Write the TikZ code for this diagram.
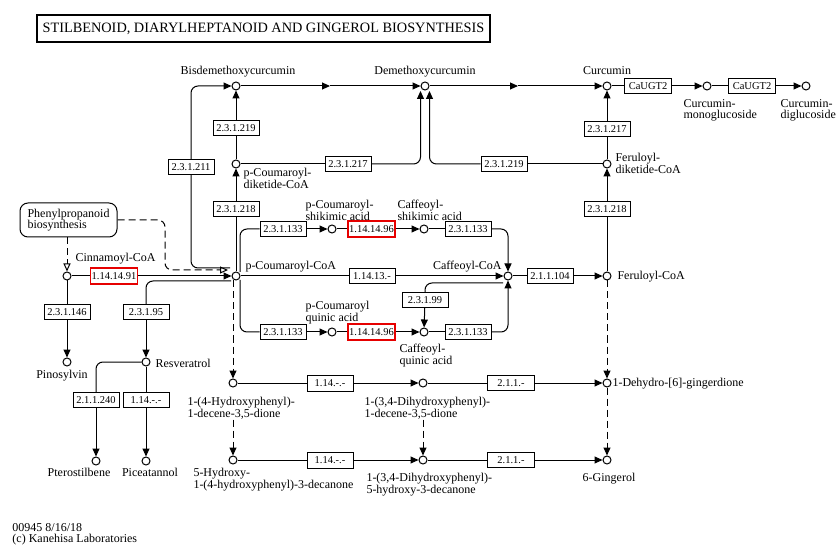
\documentclass[tikz,border=0pt]{standalone}
\usepackage{fontspec}
\setmainfont{Liberation Serif}
\usetikzlibrary{arrows.meta}
\definecolor{kred}{RGB}{230,0,0}
\begin{document}
\begin{tikzpicture}[x=1pt,y=-1pt,line width=1pt,
  cpd/.style={circle,draw,fill=white,inner sep=0pt,minimum size=8pt,line width=1pt},
  enz/.style={draw,fill=white,inner sep=0pt,minimum width=46pt,minimum height=15pt,line width=1pt,font=\fontsize{10.5}{10.5}\selectfont},
  renz/.style={enz,draw=kred,line width=1.4pt},
  lbl/.style={inner sep=0pt,align=left,font=\fontsize{12}{11.5}\selectfont},
  arr/.style={-{Triangle[length=8pt,width=7pt]}},
  oarr/.style={-{Triangle[open,length=8pt,width=7pt]}},
  dsh/.style={dash pattern=on 7pt off 4pt},
  rc/.style={rounded corners=7pt}]
\fill[white] (0,0) rectangle (838,545);
\useasboundingbox (0,0) rectangle (838,545);

% title
\node[draw,line width=1.8pt,minimum width=453pt,minimum height=27pt,inner sep=0pt,font=\fontsize{14.3}{14.3}\selectfont] (title) at (263.5,28.5) {STILBENOID, DIARYLHEPTANOID AND GINGEROL BIOSYNTHESIS};

% compounds
\node[cpd] (bis) at (236,86) {};
\node[cpd] (dmc) at (425,86) {};
\node[cpd] (cur) at (607,86) {};
\node[cpd] (cmg) at (707,86) {};
\node[cpd] (cdg) at (806,86) {};
\node[cpd] (pdk) at (236,164) {};
\node[cpd] (fdk) at (607,164) {};
\node[cpd] (cin) at (67,276) {};
\node[cpd] (pcoa) at (236,276) {};
\node[cpd] (ccoa) at (508,276) {};
\node[cpd] (fcoa) at (607,276) {};
\node[cpd] (psa) at (332,229) {};
\node[cpd] (csa) at (424,229) {};
\node[cpd] (pqa) at (332,332) {};
\node[cpd] (cqa) at (424,332) {};
\node[cpd] (pin) at (67,362) {};
\node[cpd] (res) at (146,362) {};
\node[cpd] (pte) at (96,461) {};
\node[cpd] (pic) at (146,461) {};
\node[cpd] (hdd) at (233,383) {};
\node[cpd] (dhd) at (423,383) {};
\node[cpd] (dhg) at (607,383) {};
\node[cpd] (hhd) at (233,460) {};
\node[cpd] (dhhd) at (423,460) {};
\node[cpd] (ging) at (607,460) {};

% enzymes
\node[enz,minimum width=47pt] (ugt1) at (648,86) {CaUGT2};
\node[enz,minimum width=47pt] (ugt2) at (752,86) {CaUGT2};
\node[enz] (e219a) at (236,128) {2.3.1.219};
\node[enz] (e211) at (191,167) {2.3.1.211};
\node[enz] (e217a) at (348,164) {2.3.1.217};
\node[enz] (e219b) at (504,164) {2.3.1.219};
\node[enz] (e217b) at (607,129) {2.3.1.217};
\node[enz] (e218a) at (236,209) {2.3.1.218};
\node[enz] (e218b) at (607,209) {2.3.1.218};
\node[renz,minimum width=47pt,minimum height=16pt] (e91) at (114,276) {1.14.14.91};
\node[enz] (e1413) at (372,276) {1.14.13.-};
\node[enz] (e104) at (550,276) {2.1.1.104};
\node[enz] (e133a) at (283,229) {2.3.1.133};
\node[renz,minimum width=47pt,minimum height=16pt] (e96a) at (371.5,229) {1.14.14.96};
\node[enz] (e133b) at (468,229) {2.3.1.133};
\node[enz] (e133c) at (283,332) {2.3.1.133};
\node[renz,minimum width=47pt,minimum height=16pt] (e96b) at (371.5,332) {1.14.14.96};
\node[enz] (e133d) at (468,332) {2.3.1.133};
\node[enz] (e99) at (425,300) {2.3.1.99};
\node[enz] (e146) at (67,312) {2.3.1.146};
\node[enz] (e95) at (146,312) {2.3.1.95};
\node[enz] (e240) at (96,400) {2.1.1.240};
\node[enz] (e114a) at (146,400) {1.14.-.-};
\node[enz,minimum height=16pt] (e114b) at (330,383) {1.14.-.-};
\node[enz,minimum width=47pt] (e211b) at (511,383) {2.1.1.-};
\node[enz,minimum height=16pt] (e114c) at (330,460) {1.14.-.-};
\node[enz,minimum width=47pt] (e211c) at (511,460) {2.1.1.-};

% map link
\node[draw,rounded corners=8pt,minimum width=97pt,minimum height=34pt,inner sep=0pt,align=left,font=\fontsize{12}{11.5}\selectfont] (ppb) at (68.5,220) {Phenylpropanoid\\biosynthesis};

% labels
\node[lbl,anchor=north] (l1) at (238,66) {Bisdemethoxycurcumin};
\node[lbl,anchor=north] (l2) at (425,66) {Demethoxycurcumin};
\node[lbl,anchor=north] (l3) at (607,66) {Curcumin};
\node[lbl,anchor=north west] (l4) at (683,99) {Curcumin-\\monoglucoside};
\node[lbl,anchor=north west] (l5) at (780,99) {Curcumin-\\diglucoside};
\node[lbl,anchor=north west] (l6) at (615,153) {Feruloyl-\\diketide-CoA};
\node[lbl,anchor=north west] (l7) at (243,168) {p-Coumaroyl-\\diketide-CoA};
\node[lbl,anchor=north west] (l8) at (75,253) {Cinnamoyl-CoA};
\node[lbl,anchor=north west] (l9) at (245,261) {p-Coumaroyl-CoA};
\node[lbl,anchor=north west] (l10) at (305,200) {p-Coumaroyl-\\shikimic acid};
\node[lbl,anchor=north west] (l11) at (397,200) {Caffeoyl-\\shikimic acid};
\node[lbl,anchor=north east] (l12) at (502,261) {Caffeoyl-CoA};
\node[lbl,anchor=west] (l13) at (617,277) {Feruloyl-CoA};
\node[lbl,anchor=north west] (l14) at (305,301) {p-Coumaroyl\\quinic acid};
\node[lbl,anchor=north west] (l15) at (399,344) {Caffeoyl-\\quinic acid};
\node[lbl,anchor=north] (l16) at (62,370) {Pinosylvin};
\node[lbl,anchor=west] (l17) at (155,363) {Resveratrol};
\node[lbl,anchor=north west] (l18) at (187,397) {1-(4-Hydroxyphenyl)-\\1-decene-3,5-dione};
\node[lbl,anchor=north west] (l19) at (364,397) {1-(3,4-Dihydroxyphenyl)-\\1-decene-3,5-dione};
\node[lbl,anchor=west] (l20) at (612,384) {1-Dehydro-[6]-gingerdione};
\node[lbl,anchor=north] (l21) at (79,468) {Pterostilbene};
\node[lbl,anchor=north] (l22) at (150,468) {Piceatannol};
\node[lbl,anchor=north west] (l23) at (193,468) {5-Hydroxy-\\1-(4-hydroxyphenyl)-3-decanone};
\node[lbl,anchor=north west] (l24) at (366,473) {1-(3,4-Dihydroxyphenyl)-\\5-hydroxy-3-decanone};
\node[lbl,anchor=north] (l25) at (609,473) {6-Gingerol};
\node[lbl,anchor=north west] (foot) at (12,523) {00945 8/16/18\\(c) Kanehisa Laboratories};

% free-end coordinates
\coordinate (m1) at (330,86);
\coordinate (m2) at (518,86);
\coordinate (dmcL) at (420.5,91);
\coordinate (dmcR) at (429.5,91);
\coordinate (c211) at (230,268);
\coordinate (copen) at (228,270);
\coordinate (pNE) at (240,272);
\coordinate (pSE) at (240,280);
\coordinate (c95) at (231,281);
\coordinate (c99) at (503,283);

% top row
\draw[arr] (bis) -- (m1);
\draw[arr] (m1) -- (dmc);
\draw[arr] (dmc) -- (m2);
\draw[arr] (m2) -- (cur);
\draw (cur) -- (ugt1);
\draw[arr] (ugt1) -- (cmg);
\draw (cmg) -- (ugt2);
\draw[arr] (ugt2) -- (cdg);

% left column
\draw (pcoa) -- (e218a);
\draw[arr] (e218a) -- (pdk);
\draw (pdk) -- (e219a);
\draw[arr] (e219a) -- (bis);
\draw (pdk) -- (e217a);
\draw[arr,rc] (e217a) -- (420.5,164) -- (dmcL);
\draw[rc] (c211) -- (191,268) -- (e211);
\draw[arr,rc] (e211) -- (191,86) -- (bis);

% right column
\draw (fcoa) -- (e218b);
\draw[arr] (e218b) -- (fdk);
\draw (fdk) -- (e217b);
\draw[arr] (e217b) -- (cur);
\draw (fdk) -- (e219b);
\draw[arr,rc] (e219b) -- (429.5,164) -- (dmcR);

% phenylpropanoid link
\draw[dsh,oarr,rc] (ppb.east) -- (165,220) -- (165,270) -- (copen);
\draw[dsh,oarr] (ppb.south -| cin) -- (cin);

% cinnamoyl
\draw (cin) -- (e91);
\draw[arr] (e91) -- (pcoa);
\draw (cin) -- (e146);
\draw[arr] (e146) -- (pin);

% resveratrol
\draw[rc] (c95) -- (146,281) -- (e95);
\draw[arr] (e95) -- (res);
\draw[rc] (res) -- (96,362) -- (e240);
\draw[arr] (e240) -- (pte);
\draw (res) -- (e114a);
\draw[arr] (e114a) -- (pic);

% middle
\draw (pcoa) -- (e1413);
\draw[arr] (e1413) -- (ccoa);
\draw[rc] (pNE) -- (240,229) -- (e133a);
\draw[arr] (e133a) -- (psa);
\draw (psa) -- (e96a);
\draw[arr] (e96a) -- (csa);
\draw (csa) -- (e133b);
\draw[arr,rc] (e133b) -- (508,229) -- (ccoa);
\draw[rc] (pSE) -- (240,332) -- (e133c);
\draw[arr] (e133c) -- (pqa);
\draw (pqa) -- (e96b);
\draw[arr] (e96b) -- (cqa);
\draw (cqa) -- (e133d);
\draw[arr,rc] (e133d) -- (508,332) -- (ccoa);
\draw[rc] (c99) -- (425,283) -- (e99);
\draw[arr] (e99) -- (cqa);
\draw (ccoa) -- (e104);
\draw[arr] (e104) -- (fcoa);

% gingerol part
\draw[dsh,arr] (fcoa) -- (dhg);
\draw[dsh,arr] (dhg) -- (ging);
\draw[dsh,arr] (pcoa.south -| hdd) -- (hdd);
\draw[dsh,arr] (hdd |- l18.south) -- (hhd);
\draw[dsh,arr] (dhd |- l19.south) -- (dhhd);
\draw (hdd) -- (e114b);
\draw[arr] (e114b) -- (dhd);
\draw (dhd) -- (e211b);
\draw[arr] (e211b) -- (dhg);
\draw (hhd) -- (e114c);
\draw[arr] (e114c) -- (dhhd);
\draw (dhhd) -- (e211c);
\draw[arr] (e211c) -- (ging);
\end{tikzpicture}
\end{document}
